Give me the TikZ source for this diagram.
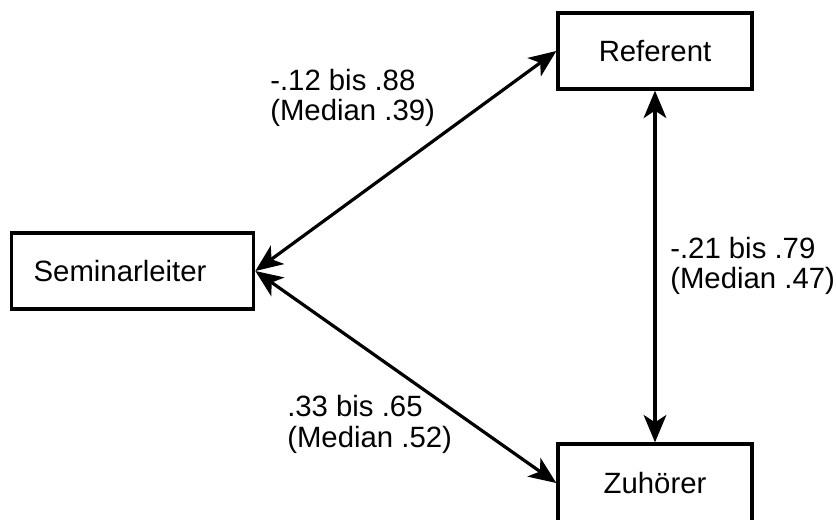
\documentclass[tikz,border=0pt]{standalone}
\usepackage{fontspec}
\setmainfont{Liberation Sans}
\usetikzlibrary{arrows.meta}
\begin{document}
\begin{tikzpicture}[x=0.75pt,y=-0.75pt,
  boxnode/.style={draw=black,line width=2.5pt,fill=white,minimum height=57pt,inner sep=0pt,font=\fontsize{22}{22.5}\selectfont},
  lbl/.style={anchor=base west,inner sep=0pt,font=\fontsize{22}{22.5}\selectfont},
  conn/.style={line width=2.4pt,{Stealth[length=20.5pt,width=17pt,inset=5.5pt]}-{Stealth[length=20.5pt,width=17pt,inset=5.5pt]}}]
\clip (0,0) rectangle (836,519);
\fill[white] (0,0) rectangle (836,519);
\node[boxnode,anchor=west,text width=148.5pt,inner xsep=16.5pt,align=left] (sem) at (10,271) {Seminarleiter};
\node[boxnode,minimum width=145.5pt] (ref) at (655,51) {Referent};
\node[boxnode,minimum width=145.5pt,minimum height=58.5pt] (zuh) at (655,483) {Zuh\"orer};
\draw[conn] (sem.east) -- (ref.west);
\draw[conn] (sem.east) -- (zuh.west);
\draw[conn] (ref.south) -- (zuh.north);
\node[lbl] (l1a) at (270,90) {-.12 bis .88};
\node[lbl] (l1b) at (270,120) {(Median .39)};
\node[lbl] (l2a) at (670,258) {-.21 bis .79};
\node[lbl] (l2b) at (670,288) {(Median .47)};
\node[lbl] (l3a) at (287,416) {.33 bis .65};
\node[lbl] (l3b) at (287,447) {(Median .52)};
\end{tikzpicture}
\end{document}
